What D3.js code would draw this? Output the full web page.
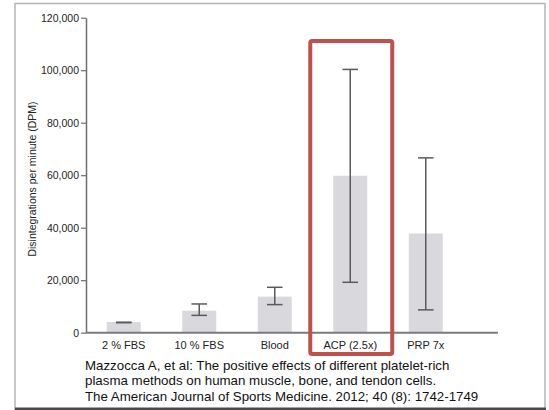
<!DOCTYPE html>
<html>
<head>
<meta charset="utf-8">
<script src="https://cdn.jsdelivr.net/npm/d3@7"></script>
<style>
  body { margin: 0; background: #fff; }
  text { font-family: "Liberation Sans", Arial, sans-serif; }
</style>
</head>
<body>
<div id="chart"></div>
<script>
const categories = ['2 % FBS', '10 % FBS', 'Blood', 'ACP (2.5x)', 'PRP 7x'];
const means = [4100, 8400, 13750, 59800, 37800];
const errLow = [3800, 6600, 10700, 19200, 8700];
const errHigh = [4000, 10950, 17300, 100300, 66600];
const yTicks = [0, 20000, 40000, 60000, 80000, 100000, 120000];
const highlight = 'ACP (2.5x)';
const caption = [
    'Mazzocca A, et al: The positive effects of different platelet-rich',
    'plasma methods on human muscle, bone, and tendon cells.',
    'The American Journal of Sports Medicine. 2012; 40 (8): 1742-1749'
];

const data = categories.map((c, i) => ({
    cat: c,
    mean: means[i],
    lo: errLow[i],
    hi: errHigh[i]
}));

const W = 549, H = 410;
const x0 = 86, xEnd = 498;

const svg = d3.select('#chart')
    .append('svg')
    .attr('width', W)
    .attr('height', H);

// frame
svg.append('rect')
    .attr('x', 15).attr('y', 3.5)
    .attr('width', 530).attr('height', 406)
    .attr('fill', 'none')
    .attr('stroke', '#b4b4b8')
    .attr('stroke-width', 1.5);
svg.append('rect')
    .attr('x', 15).attr('y', 407.5)
    .attr('width', 531).attr('height', 3)
    .attr('fill', '#4a4a4e');

const x = d3.scaleBand()
    .domain(categories)
    .range([x0, x0 + 5 * 75.5])
    .paddingInner(0.55)
    .paddingOuter(0.275);

const y = d3.scaleLinear()
    .domain([0, 120000])
    .range([332.7, 17.7]);

// bars
svg.append('g').selectAll('rect')
    .data(data)
    .enter().append('rect')
    .attr('x', d => x(d.cat))
    .attr('y', d => y(d.mean))
    .attr('width', x.bandwidth())
    .attr('height', d => y(0) - y(d.mean))
    .attr('fill', '#d9d9dd');

// error bars
const eb = svg.append('g')
    .attr('stroke', '#5a5a5e')
    .attr('stroke-width', 1.5);
const cap = 7.8;
data.forEach(d => {
    const cx = x(d.cat) + x.bandwidth() / 2;
    eb.append('line')
        .attr('x1', cx).attr('x2', cx)
        .attr('y1', y(d.hi)).attr('y2', y(d.lo));
    [d.hi, d.lo].forEach(v => {
        eb.append('line')
            .attr('x1', cx - cap).attr('x2', cx + cap)
            .attr('y1', y(v)).attr('y2', y(v));
    });
});

// y axis
const yAxis = d3.axisLeft(y)
    .tickValues(yTicks)
    .tickFormat(d3.format(','))
    .tickSize(5)
    .tickSizeOuter(0)
    .tickPadding(2);
const gy = svg.append('g')
    .attr('transform', `translate(${x0},0)`)
    .call(yAxis);
gy.select('.domain').attr('stroke', '#6e6e72').attr('stroke-width', 1.5);
gy.selectAll('.tick line').attr('stroke', '#6e6e72').attr('stroke-width', 1.2);
gy.selectAll('.tick text')
    .attr('fill', '#222')
    .style('font-size', '10.5px');

// x axis
const xAxis = d3.axisBottom(x).tickSize(0).tickPadding(9);
const gx = svg.append('g')
    .attr('transform', `translate(0,${y(0)})`)
    .call(xAxis);
gx.select('.domain').remove();
gx.selectAll('.tick text')
    .attr('fill', '#222')
    .style('font-size', '11px');
svg.append('line')
    .attr('x1', x0).attr('x2', xEnd)
    .attr('y1', y(0)).attr('y2', y(0))
    .attr('stroke', '#7a7a7e')
    .attr('stroke-width', 2);

// y label
svg.append('text')
    .attr('transform', 'rotate(-90)')
    .attr('x', -179)
    .attr('y', 36)
    .style('text-anchor', 'middle')
    .style('font-size', '10.5px')
    .attr('fill', '#222')
    .text('Disintegrations per minute (DPM)');

// highlight box
const hx = x(highlight);
svg.append('rect')
    .attr('x', hx - 23)
    .attr('y', 41)
    .attr('width', x.bandwidth() + 48)
    .attr('height', 313)
    .attr('rx', 2)
    .attr('fill', 'none')
    .attr('stroke', '#c0504a')
    .attr('stroke-width', 4);

// caption
svg.append('g').selectAll('text')
    .data(caption)
    .enter().append('text')
    .attr('x', 85)
    .attr('y', (d, i) => 370 + i * 15.3)
    .style('font-size', '13.3px')
    .attr('fill', '#111')
    .text(d => d);
</script>
</body>
</html>
